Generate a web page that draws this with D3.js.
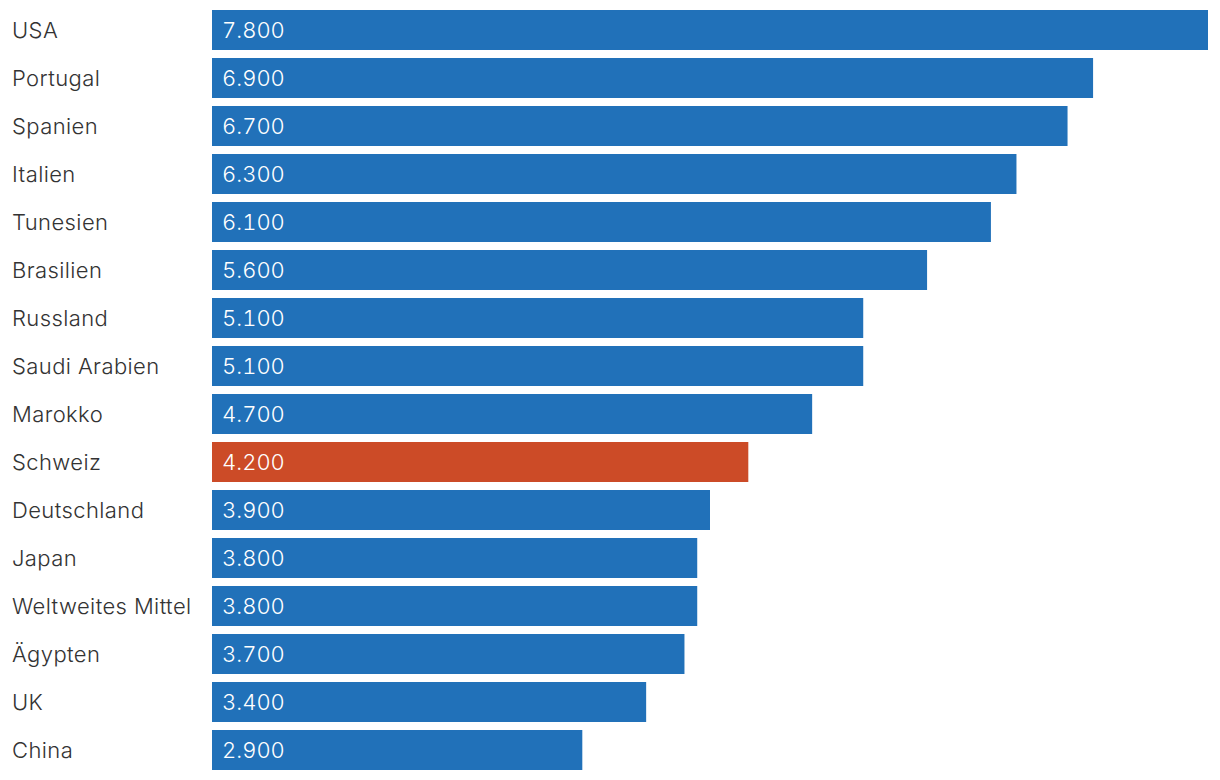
<!DOCTYPE html>
<html><head><meta charset="utf-8">
<script src="https://cdn.jsdelivr.net/npm/d3@7"></script>
<style>body{margin:0;background:#fff}svg{display:block}text{font-family:Inter,"Noto Sans",sans-serif;letter-spacing:0.4px}text.val{letter-spacing:0;font-variant-numeric:tabular-nums;font-feature-settings:"tnum"}</style>
</head><body>
<svg id="c" width="1220" height="780"></svg>
<script>
const countries = ["USA","Portugal","Spanien","Italien","Tunesien","Brasilien","Russland","Saudi Arabien","Marokko","Schweiz","Deutschland","Japan","Weltweites Mittel","Ägypten","UK","China"];
const values = [7800,6900,6700,6300,6100,5600,5100,5100,4700,4200,3900,3800,3800,3700,3400,2900];
const highlight = ["Schweiz"];

const svg = d3.select("#c");
const x = d3.scaleLinear().domain([0, 7800]).range([212, 1208]);
const y = d3.scaleBand().domain(countries).range([10, 770]).paddingInner(8/48).paddingOuter(0);
const fmt = d3.formatLocale({decimal:",", thousands:".", grouping:[3], currency:["","€"]}).format(",d");
const data = countries.map((c,i)=>({c, v: values[i]}));

svg.selectAll("rect").data(data).join("rect")
  .attr("x", x(0)).attr("y", d=>y(d.c))
  .attr("width", d=>x(d.v)-x(0)).attr("height", y.bandwidth())
  .attr("fill", d=>highlight.includes(d.c) ? "#cc4b27" : "#2171b9");

svg.selectAll("text.lab").data(data).join("text").attr("class","lab")
  .attr("x", 12).attr("y", d=>y(d.c)+y.bandwidth()/2)
  .attr("dy","0.35em").attr("font-size",22).attr("font-weight",300).attr("fill","#333")
  .text(d=>d.c);

svg.selectAll("text.val").data(data).join("text").attr("class","val")
  .attr("x", x(0)+10).attr("y", d=>y(d.c)+y.bandwidth()/2)
  .attr("dy","0.35em").attr("font-size",22).attr("font-weight",300).attr("fill","#fff")
  .text(d=>fmt(d.v));
</script>
</body></html>
